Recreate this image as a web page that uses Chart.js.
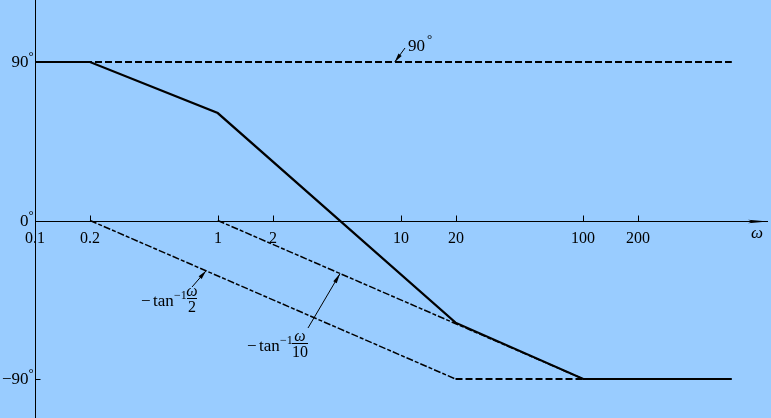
<!DOCTYPE html>
<html><head><meta charset="utf-8">
<script src="https://cdn.jsdelivr.net/npm/chart.js@4/dist/chart.umd.min.js"></script>
<style>html,body{margin:0;padding:0;background:#99CCFF;overflow:hidden}#wrap{width:771px;height:418px;position:relative}canvas{display:block}</style>
</head><body><div id="wrap"><canvas id="c" width="771" height="418"></canvas></div>
<script>
// ---- data ----
const xTickValues = [0.1, 0.2, 1, 2, 10, 20, 100, 200];
const xTickLabels = ['0.1', '0.2', '1', '2', '10', '20', '100', '200'];
const yTickValues = [90, 0, -90];
const yTickLabels = ['90', '0', '\u221290'];
const totalW = [0.1, 0.2, 1, 20, 100, 650];
const totalPhase = [90, 90, 61, -58, -90, -90];
const leadW = [0.1, 650];
const leadPhase = [90, 90];
const lag2W = [0.2, 20];
const lag2Phase = [0, -90];
const lag2FlatW = [20, 100];
const lag2FlatPhase = [-90, -90];
const lag10W = [1, 100];
const lag10Phase = [0, -90];

const pts = (xs, ys) => xs.map((x, i) => ({x: x, y: ys[i]}));
const INK = '#000';
const SERIF = '"Liberation Serif", "DejaVu Serif", serif';

function arrowHead(ctx, x0, y0, x1, y1, len, hw) {
  const a = Math.atan2(y1 - y0, x1 - x0);
  ctx.beginPath();
  ctx.moveTo(x1, y1);
  ctx.lineTo(x1 - len * Math.cos(a) + hw * Math.sin(a), y1 - len * Math.sin(a) - hw * Math.cos(a));
  ctx.lineTo(x1 - len * Math.cos(a) - hw * Math.sin(a), y1 - len * Math.sin(a) + hw * Math.cos(a));
  ctx.closePath();
  ctx.fill();
}

const axesPlugin = {
  id: 'axesPlugin',
  beforeDatasetsDraw(chart) {
    const ctx = chart.ctx, xs = chart.scales.x, ys = chart.scales.y;
    const x0 = Math.round(xs.getPixelForValue(0.1)) + 0.5;
    const y0 = Math.round(ys.getPixelForValue(0)) + 0.5;
    ctx.save();
    ctx.strokeStyle = INK; ctx.fillStyle = INK; ctx.lineWidth = 1;
    ctx.beginPath(); ctx.moveTo(x0, 0); ctx.lineTo(x0, 418); ctx.stroke();
    ctx.beginPath(); ctx.moveTo(x0, y0); ctx.lineTo(768, y0); ctx.stroke();
    ctx.beginPath(); ctx.moveTo(768, y0); ctx.lineTo(748, y0 - 1.8); ctx.lineTo(752, y0); ctx.lineTo(748, y0 + 1.8); ctx.closePath(); ctx.fill();
    xTickValues.forEach((v, i) => {
      const px = Math.round(xs.getPixelForValue(v)) + 0.5;
      if (i > 0) { ctx.beginPath(); ctx.moveTo(px, y0); ctx.lineTo(px, y0 - 6); ctx.stroke(); }
      ctx.font = '16px ' + SERIF; ctx.textAlign = 'center'; ctx.textBaseline = 'alphabetic';
      ctx.fillText(xTickLabels[i], px - 0.5, y0 + 21);
    });
    const ym = Math.round(ys.getPixelForValue(-90)) + 0.5;
    ctx.beginPath(); ctx.moveTo(x0, ym); ctx.lineTo(x0 + 5, ym); ctx.stroke();
    yTickValues.forEach((v, i) => {
      const py = ys.getPixelForValue(v);
      ctx.font = '17px ' + SERIF; ctx.textAlign = 'right'; ctx.textBaseline = 'middle';
      ctx.fillText(yTickLabels[i], x0 - 7, py + 1);
      ctx.font = '13px ' + SERIF; ctx.textAlign = 'left';
      ctx.fillText('\u00b0', x0 - 7, py - 5);
    });
    ctx.font = 'italic 17px ' + SERIF; ctx.textAlign = 'center'; ctx.textBaseline = 'alphabetic';
    ctx.fillText('\u03c9', 757, y0 + 16);
    ctx.restore();
  },
  afterDraw(chart) {
    const ctx = chart.ctx, xs = chart.scales.x, ys = chart.scales.y;
    ctx.save();
    ctx.strokeStyle = INK; ctx.fillStyle = INK; ctx.lineWidth = 1;
    // 90 deg leader
    const t90x = xs.getPixelForValue(9.3), t90y = ys.getPixelForValue(90);
    ctx.beginPath(); ctx.moveTo(405, 48); ctx.lineTo(t90x, t90y); ctx.stroke();
    arrowHead(ctx, 405, 48, t90x, t90y, 9, 2);
    ctx.font = '17px ' + SERIF; ctx.textAlign = 'left'; ctx.textBaseline = 'alphabetic';
    ctx.fillText('90', 408, 51);
    ctx.font = '13px ' + SERIF; ctx.fillText('\u00b0', 427, 43);

    const w2 = 0.863, p2 = -90 * Math.log10(w2 / 0.2) / 2;
    const t2x = xs.getPixelForValue(w2), t2y = ys.getPixelForValue(p2);
    ctx.beginPath(); ctx.moveTo(192, 287); ctx.lineTo(t2x, t2y); ctx.stroke();
    arrowHead(ctx, 192, 287, t2x, t2y, 9, 2);
    const w10 = 4.67, p10 = -90 * Math.log10(w10) / 2;
    const t10x = xs.getPixelForValue(w10), t10y = ys.getPixelForValue(p10);
    ctx.beginPath(); ctx.moveTo(308, 328); ctx.lineTo(t10x, t10y); ctx.stroke();
    arrowHead(ctx, 308, 328, t10x, t10y, 10, 2);

    function tanLabel(x, base, denom, fx) {
      ctx.textAlign = 'left'; ctx.textBaseline = 'alphabetic';
      ctx.font = '17px ' + SERIF;
      ctx.fillText('\u2212', x, base);
      ctx.fillText('tan', x + 12, base);
      ctx.font = '12px ' + SERIF;
      ctx.fillText('\u22121', x + 33, base - 7);
      ctx.textAlign = 'center';
      ctx.font = 'italic 16px ' + SERIF;
      ctx.fillText('\u03c9', fx, base - 10);
      const hw = denom.length > 1 ? 8 : 5;
      ctx.beginPath(); ctx.moveTo(fx - hw, base - 7.5); ctx.lineTo(fx + hw, base - 7.5); ctx.stroke();
      ctx.font = '16px ' + SERIF;
      ctx.fillText(denom, fx, base + 6);
    }
    tanLabel(141, 306, '2', 192);
    tanLabel(247, 351, '10', 300);
    ctx.restore();
  }
};

new Chart(document.getElementById('c'), {
  type: 'line',
  data: {
    datasets: [
      {data: pts(leadW, leadPhase), borderColor: INK, borderWidth: 2, borderDash: [7, 3]},
      {data: pts(lag2W, lag2Phase), borderColor: INK, borderWidth: 1.5, borderDash: [7, 2, 4, 2]},
      {data: pts(lag2FlatW, lag2FlatPhase), borderColor: INK, borderWidth: 2, borderDash: [7, 3]},
      {data: pts(lag10W, lag10Phase), borderColor: INK, borderWidth: 1.5, borderDash: [7, 2, 4, 2]},
      {data: pts(totalW, totalPhase), borderColor: INK, borderWidth: 2.2}
    ]
  },
  options: {
    responsive: false, animation: false, devicePixelRatio: 1,
    layout: {padding: {left: 35, right: 5, top: 62, bottom: 39}},
    elements: {point: {radius: 0}, line: {tension: 0, borderCapStyle: 'butt', borderJoinStyle: 'miter'}},
    datasets: {line: {clip: false, fill: false}},
    plugins: {legend: {display: false}, tooltip: {enabled: false}},
    scales: {
      x: {type: 'logarithmic', min: 0.1, max: 1000, display: false},
      y: {type: 'linear', min: -90, max: 90, display: false}
    }
  },
  plugins: [axesPlugin]
});
</script>
</body></html>
